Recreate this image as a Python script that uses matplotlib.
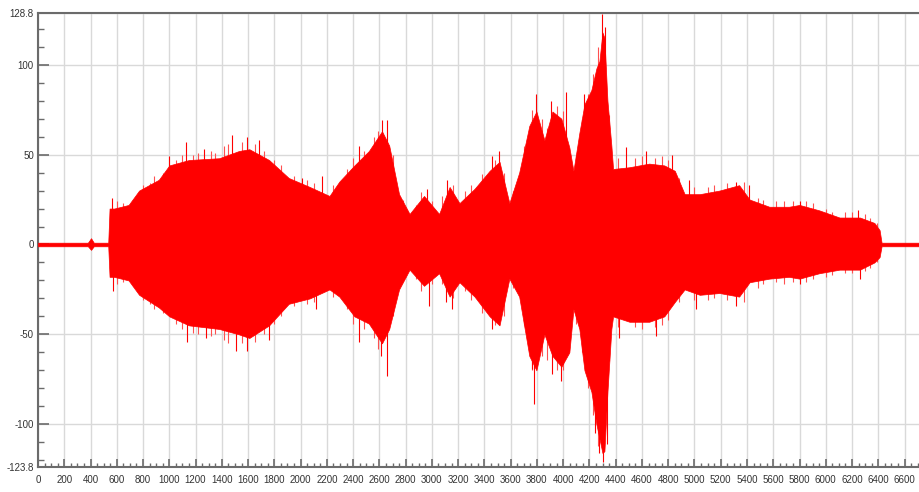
import numpy as np
import matplotlib
matplotlib.use("Agg")
import matplotlib.pyplot as plt
from matplotlib.ticker import MultipleLocator, FixedLocator

# Envelope of the waveform (x position, upper, lower)
env_x = [0, 380, 404, 425, 535, 545, 580, 690, 770, 920, 1000, 1150, 1380, 1530,
         1610, 1760, 1910, 2070, 2220, 2295, 2410, 2520, 2620, 2675, 2750, 2830,
         2940, 3055, 3135, 3210, 3325, 3440, 3515, 3590, 3665, 3742, 3796, 3857,
         3918, 3986, 4047, 4078, 4123, 4162, 4215, 4253, 4276, 4299, 4314, 4337,
         4367, 4380, 4505, 4655, 4770, 4850, 4925, 5040, 5190, 5340, 5420, 5570,
         5720, 5800, 5950, 6105, 6260, 6370, 6410, 6425, 6710]
env_upper = [1, 1, 3.5, 1, 1, 20, 20, 22, 30, 36, 44, 47, 48, 52,
             53, 47, 37, 32, 27, 35, 44, 52, 63, 55, 28, 17,
             27, 17, 32, 23, 31, 41, 46, 23, 40, 66, 74, 58,
             74, 70, 54, 41, 62, 78, 86, 98, 102, 118, 115, 80,
             55, 42, 43, 45, 44, 41, 28, 28, 30, 33, 25, 21,
             21, 22, 19, 15, 15, 12, 8, 1, 1]
env_lower = [-1, -1, -3, -1, -1, -18, -18, -20, -28, -35, -40, -45, -47, -50,
             -52, -45, -33, -30, -25, -29, -40, -44, -55, -47, -25, -14,
             -23, -16, -29, -21, -29, -40, -45, -19, -29, -62, -70, -50,
             -62, -68, -60, -36, -47, -70, -82, -100, -108, -116, -115, -82,
             -47, -40, -43, -43, -40, -32, -25, -28, -27, -29, -21, -19,
             -18, -19, -16, -14, -14, -10, -7, -1, -1]

# Isolated peaks sticking out of the envelope
spike_up_x = [564, 998, 1128, 1265, 1479, 1593, 1684, 2012, 2165, 2447, 2622, 2660,
              2965, 3117, 3460, 3514, 3796, 3910, 4024, 4162, 4299, 4322, 4482,
              4634, 4825, 4962, 5320, 5419, 5800, 6242]
spike_up_y = [26, 49, 57, 53, 61, 60, 58, 37, 38, 55, 69, 69,
              31, 36, 49, 52, 84, 80, 85, 84, 128, 121, 54,
              52, 50, 36, 35, 33, 24, 19]
spike_dn_x = [572, 1136, 1280, 1509, 1593, 1761, 2119, 2447, 2614, 2660, 2980, 3110,
              3156, 3460, 3765, 3780, 3918, 3986, 4245, 4276, 4307, 4330, 4428,
              4710, 5015, 5320, 5800, 6258]
spike_dn_y = [-26, -54, -52, -59, -59, -53, -36, -54, -62, -73, -34, -32,
              -36, -47, -69, -89, -72, -76, -105, -116, -121, -111, -52,
              -51, -36, -34, -22, -19]

# Fuzzy fringe just outside the envelope
fringe_x = [600, 650, 720, 800, 850, 880, 950, 1050, 1100, 1180, 1220, 1320, 1350,
            1420, 1450, 1550, 1650, 1720, 1800, 1850, 1950, 2050, 2100, 2250, 2350,
            2400, 2480, 2560, 2590, 2700, 2780, 2880, 2920, 3000, 3080, 3160, 3250,
            3300, 3380, 3480, 3550, 3620, 3700, 3760, 3840, 3880, 3950, 4000, 4100,
            4140, 4190, 4230, 4265, 4350, 4420, 4550, 4600, 4700, 4750, 4800, 4880,
            5000, 5100, 5150, 5250, 5380, 5480, 5520, 5620, 5680, 5750, 5850, 5900,
            6000, 6050, 6150, 6200, 6300, 6340, 6390]
fringe_up = [24, 23, 25, 33, 34, 38, 40, 47, 50, 50, 51, 52, 51,
             55, 56, 57, 56, 52, 47, 44, 38, 36, 34, 33, 42,
             48, 52, 60, 63, 50, 25, 22, 29, 24, 27, 33, 30,
             33, 39, 47, 40, 30, 55, 75, 70, 65, 77, 74, 50,
             70, 84, 95, 110, 72, 48, 48, 49, 48, 49, 47, 37,
             32, 32, 33, 34, 35, 26, 25, 24, 24, 24, 24, 23,
             20, 18, 18, 18, 17, 15, 12]
fringe_dn = [-22, -21, -23, -31, -33, -36, -38, -44, -47, -49, -50, -51, -50,
             -53, -55, -55, -54, -50, -44, -40, -34, -33, -32, -29, -36,
             -44, -47, -52, -58, -40, -20, -19, -26, -22, -22, -30, -26,
             -31, -38, -45, -40, -24, -45, -70, -62, -64, -70, -70, -44,
             -60, -80, -95, -112, -65, -46, -46, -47, -46, -45, -42, -32,
             -31, -31, -30, -31, -32, -24, -22, -21, -22, -21, -21, -19,
             -18, -17, -16, -16, -15, -13, -10]

y_ticks = [-123.8, -100, -50, 0, 50, 100, 128.8]
y_labels = ["-123.8", "-100", "-50", "0", "50", "100", "128.8"]

plt.rcParams["font.family"] = ["Liberation Sans", "DejaVu Sans"]

fig = plt.figure(figsize=(9.19, 4.92), dpi=100)
ax = fig.add_axes([38 / 919, 25 / 492, 1 - 38 / 919, (467 - 13) / 492])

red = "#ff0000"
ax.vlines(fringe_x, fringe_dn, fringe_up, color="#ff5050", lw=0.8, zorder=2)
ax.fill_between(env_x, env_lower, env_upper, color=red, lw=0.5, zorder=3)
ax.vlines(spike_up_x, 0, spike_up_y, color=red, lw=0.8, zorder=3)
ax.vlines(spike_dn_x, spike_dn_y, 0, color=red, lw=0.8, zorder=3)

ax.set_xlim(0, 6710)
ax.set_ylim(-123.8, 128.8)

ax.xaxis.set_major_locator(MultipleLocator(200))
ax.xaxis.set_minor_locator(MultipleLocator(50))
ax.yaxis.set_major_locator(FixedLocator(y_ticks))
ax.set_yticklabels(y_labels)
ax.yaxis.set_minor_locator(MultipleLocator(10))

ax.grid(True, which="major", color="#d9d9d9", lw=1.0, zorder=0)
ax.set_axisbelow(True)

ax.spines["right"].set_visible(False)
for side in ["left", "top", "bottom"]:
    ax.spines[side].set_color("#6b6b6b")
    ax.spines[side].set_linewidth(1.5)

ax.tick_params(axis="both", which="both", direction="in", colors="#6b6b6b",
               labelcolor="#333333", labelsize=7)
ax.tick_params(axis="y", which="major", length=8, width=1.2, pad=3)
ax.tick_params(axis="y", which="minor", length=4, width=1.0)
ax.tick_params(axis="x", which="major", length=6, width=1.2, pad=6)
ax.tick_params(axis="x", which="minor", length=3, width=1.0)

fig.savefig("out.png", dpi=100)
